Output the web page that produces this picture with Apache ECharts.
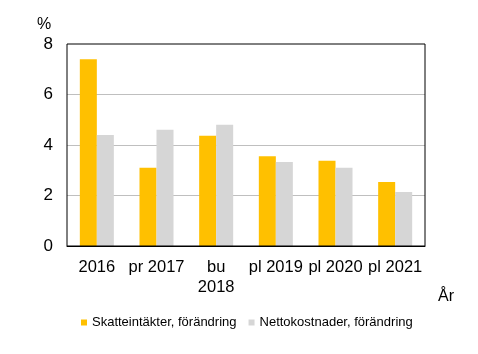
<!DOCTYPE html>
<html>
<head>
<meta charset="utf-8">
<script src="https://cdn.jsdelivr.net/npm/echarts@6/dist/echarts.min.js"></script>
<style>
  html, body { margin: 0; padding: 0; background: #fff; }
  #chart { width: 478px; height: 354px; }
</style>
</head>
<body>
<div id="chart"></div>
<script>
var categories = ['2016', 'pr 2017', 'bu\n2018', 'pl 2019', 'pl 2020', 'pl 2021'];
var skatteintakter = [7.4, 3.1, 4.37, 3.55, 3.38, 2.53];
var nettokostnader = [4.4, 4.6, 4.8, 3.33, 3.1, 2.14];
var yTicks = [0, 2, 4, 6, 8];

var chart = echarts.init(document.getElementById('chart'));
var font = 'Liberation Sans, Arial, sans-serif';

chart.setOption({
    animation: false,
    textStyle: { fontFamily: font },
    grid: { left: 67, right: 53, top: 44, bottom: 108, show: true, borderColor: '#000', borderWidth: 1, z: 3 },
    legend: {
        left: 76, top: 311,
        itemWidth: 6, itemHeight: 6, itemGap: 12,
        icon: 'rect',
        textStyle: { fontSize: 13, color: '#000', fontFamily: font },
        data: ['Skatteintäkter, förändring', 'Nettokostnader, förändring']
    },
    xAxis: {
        type: 'category',
        data: categories,
        axisLine: { lineStyle: { color: '#000' } },
        axisTick: { inside: true, length: 7, lineStyle: { color: '#000' } },
        axisLabel: { interval: 0, fontSize: 16.5, color: '#000', margin: 11, lineHeight: 20, fontFamily: font }
    },
    yAxis: {
        type: 'value',
        min: yTicks[0], max: yTicks[yTicks.length - 1], interval: 2,
        axisLine: { show: false },
        axisTick: { show: false },
        splitLine: { showMinLine: false, showMaxLine: false, lineStyle: { color: '#BFBFBF' } },
        axisLabel: { fontSize: 17, color: '#000', margin: 14, fontFamily: font }
    },
    graphic: [
        { type: 'text', left: 37, top: 17, style: { text: '%', fontSize: 16, fill: '#000', fontFamily: font } },
        { type: 'text', left: 438, top: 289, style: { text: 'År', fontSize: 16, fill: '#000', fontFamily: font } }
    ],
    series: [
        {
            name: 'Skatteintäkter, förändring', type: 'bar', data: skatteintakter,
            itemStyle: { color: '#FFC000' }, barGap: '0%', barCategoryGap: '43%'
        },
        {
            name: 'Nettokostnader, förändring', type: 'bar', data: nettokostnader,
            itemStyle: { color: '#D6D6D6' }
        }
    ]
});
</script>
</body>
</html>
